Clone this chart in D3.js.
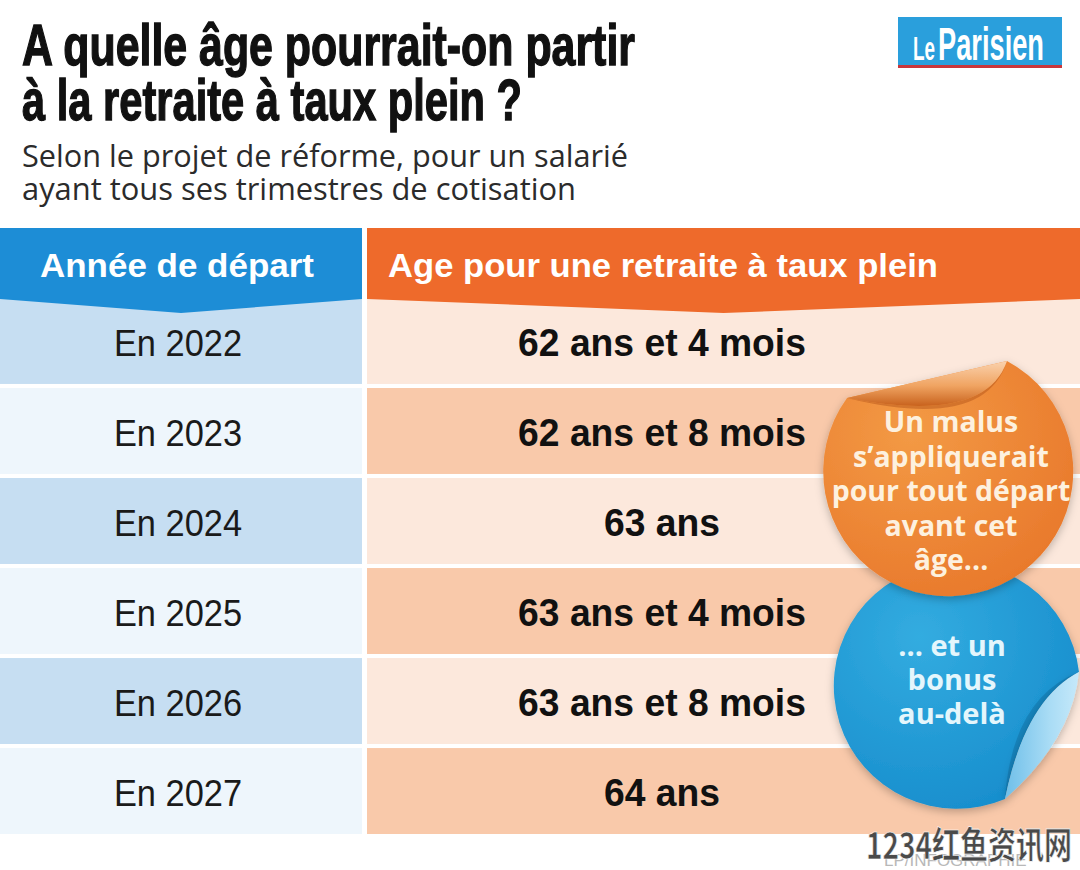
<!DOCTYPE html>
<html><head><meta charset="utf-8">
<script src="https://cdn.jsdelivr.net/npm/d3@7"></script>
<style>body{margin:0;background:#fff}svg{display:block}</style>
</head><body>
<script>
// ---- data ----
const titleLines = ["A quelle âge pourrait-on partir", "à la retraite à taux plein ?"];
const subtitleLines = ["Selon le projet de réforme, pour un salarié", "ayant tous ses trimestres de cotisation"];
const headers = ["Année de départ", "Age pour une retraite à taux plein"];
const years = [2022, 2023, 2024, 2025, 2026, 2027];
const ageYears = [62, 62, 63, 63, 63, 64];
const ageMonths = [4, 8, 0, 4, 8, 0];
const malusLines = ["Un malus", "s’appliquerait", "pour tout départ", "avant cet", "âge..."];
const bonusLines = ["... et un", "bonus", "au-delà"];

const rows = years.map((y, i) => ({
  year: y,
  label: "En " + y,
  age: ageMonths[i] ? `${ageYears[i]} ans et ${ageMonths[i]} mois` : `${ageYears[i]} ans`
}));

const W = 1080, H = 870;
const svg = d3.select("body").append("svg").attr("width", W).attr("height", H);
const defs = svg.append("defs");

const SANS = "'Liberation Sans', Arial, sans-serif";
const HUM = "'Open Sans', 'Noto Sans', sans-serif";

function fit(sel, w) { sel.attr("textLength", w).attr("lengthAdjust", "spacingAndGlyphs"); }
function condense(sel, k) {
  sel.each(function () { const w = this.getComputedTextLength(); d3.select(this).attr("textLength", w * k).attr("lengthAdjust", "spacingAndGlyphs"); });
}

// ---- title ----
const titleW = [613, 500];
svg.selectAll("text.title").data(titleLines).join("text")
  .attr("class", "title").attr("x", 22).attr("y", (d, i) => 65 + i * 55)
  .attr("font-family", SANS).attr("font-weight", 700).attr("font-size", 58).attr("fill", "#111")
  .attr("stroke", "#111").attr("stroke-width", 1.4)
  .text(d => d).each(function (d, i) { fit(d3.select(this), titleW[i]); });

const subW = [606, 554];
svg.selectAll("text.sub").data(subtitleLines).join("text")
  .attr("class", "sub").attr("x", 22).attr("y", (d, i) => 167 + i * 33)
  .attr("font-family", HUM).attr("font-weight", 400).attr("font-size", 31).attr("fill", "#2b2b2b")
  .text(d => d).each(function (d, i) { fit(d3.select(this), subW[i]); });

// ---- logo ----
const logo = svg.append("g").attr("font-family", SANS).attr("font-weight", 700).attr("fill", "#fff");
logo.append("rect").attr("x", 898).attr("y", 17).attr("width", 164).attr("height", 50).attr("fill", "#2a9fdc");
logo.append("rect").attr("x", 898).attr("y", 65).attr("width", 164).attr("height", 3).attr("fill", "#c9363a");
logo.append("text").attr("x", 913).attr("y", 60).attr("font-size", 34).text("Le").call(fit, 22);
logo.append("text").attr("x", 938).attr("y", 60).attr("font-size", 46).text("Parisien").call(fit, 106);

// ---- table ----
const leftX0 = 0, leftX1 = 362, rightX0 = 367, rightX1 = 1080;
const leftCx = 178, rightCx = 662;
const y = d3.scaleBand().domain(years).range([298, 834]).paddingInner(0.045);

const leftColors = ["#c6def2", "#eef6fc"];
const rightColors = ["#fce8dc", "#f9c9aa"];

const rowG = svg.append("g");
rowG.selectAll("rect.l").data(rows).join("rect").attr("class", "l")
  .attr("x", leftX0).attr("width", leftX1 - leftX0)
  .attr("y", d => y(d.year)).attr("height", y.bandwidth())
  .attr("fill", (d, i) => leftColors[i % 2]);
rowG.selectAll("rect.r").data(rows).join("rect").attr("class", "r")
  .attr("x", rightX0).attr("width", rightX1 - rightX0)
  .attr("y", d => y(d.year)).attr("height", y.bandwidth())
  .attr("fill", (d, i) => rightColors[i % 2]);

// header with chevron
const hTop = 228, hBot = 299, hTip = 313;
svg.append("path").attr("fill", "#1d8dd6")
  .attr("d", `M${leftX0},${hTop}H${leftX1}V${hBot}L${(leftX0 + leftX1) / 2},${hTip}L${leftX0},${hBot}Z`);
svg.append("path").attr("fill", "#ee6a2b")
  .attr("d", `M${rightX0},${hTop}H${rightX1}V${hBot}L${(rightX0 + rightX1) / 2},${hTip}L${rightX0},${hBot}Z`);

const hdr = svg.append("g").attr("font-family", SANS).attr("font-weight", 700).attr("font-size", 34).attr("fill", "#fff");
hdr.append("text").attr("x", 40).attr("y", 277).text(headers[0]).call(fit, 274);
hdr.append("text").attr("x", 388).attr("y", 277).text(headers[1]).call(fit, 550);

// row labels
rowG.selectAll("text.year").data(rows).join("text").attr("class", "year")
  .attr("x", leftCx).attr("y", d => y(d.year) + y.bandwidth() / 2 + 15)
  .attr("text-anchor", "middle").attr("font-family", SANS).attr("font-size", 37).attr("fill", "#1a1a1a")
  .text(d => d.label).call(condense, 0.93);

rowG.selectAll("text.age").data(rows).join("text").attr("class", "age")
  .attr("x", rightCx).attr("y", d => y(d.year) + y.bandwidth() / 2 + 15)
  .attr("text-anchor", "middle").attr("font-family", SANS).attr("font-weight", 700).attr("font-size", 39).attr("fill", "#111")
  .text(d => d.age).call(condense, 0.955);

// ---- stickers ----
const shadow = defs.append("filter").attr("id", "sh").attr("x", "-20%").attr("y", "-20%").attr("width", "140%").attr("height", "140%");
shadow.append("feDropShadow").attr("dx", 0).attr("dy", 3).attr("stdDeviation", 4).attr("flood-color", "#000").attr("flood-opacity", 0.25);

const gO = defs.append("radialGradient").attr("id", "gO").attr("cx", "35%").attr("cy", "30%").attr("r", "80%");
gO.append("stop").attr("offset", "0%").attr("stop-color", "#f39a45");
gO.append("stop").attr("offset", "100%").attr("stop-color", "#e8772a");
const gB = defs.append("radialGradient").attr("id", "gB").attr("cx", "35%").attr("cy", "30%").attr("r", "80%");
gB.append("stop").attr("offset", "0%").attr("stop-color", "#33ace0");
gB.append("stop").attr("offset", "100%").attr("stop-color", "#168ccc");
const fO = defs.append("linearGradient").attr("id", "fO").attr("x1", 0).attr("y1", 0).attr("x2", 0).attr("y2", 1);
fO.append("stop").attr("offset", "0%").attr("stop-color", "#fad2ae");
fO.append("stop").attr("offset", "55%").attr("stop-color", "#f0a462");
fO.append("stop").attr("offset", "100%").attr("stop-color", "#c8621d");
const fB = defs.append("linearGradient").attr("id", "fB").attr("x1", 0).attr("y1", 0).attr("x2", 1).attr("y2", 0);
fB.append("stop").attr("offset", "0%").attr("stop-color", "#6fbfe9");
fB.append("stop").attr("offset", "60%").attr("stop-color", "#a9dcf5");
fB.append("stop").attr("offset", "100%").attr("stop-color", "#c6e9fa");

// blue sticker (behind)
const rB = 123;
const bP = [1079, 672], bQ = [1005, 799];
svg.append("path").attr("filter", "url(#sh)").attr("fill", "url(#gB)")
  .attr("d", `M${bP}A${rB},${rB} 0 1 0 ${bQ}Q1025,700 ${bP}Z`);
svg.append("path").attr("fill", "#0f6c9f").attr("opacity", 0.45)
  .attr("d", `M${bP}Q1012,698 ${bQ}Q1025,700 ${bP}Z`);
svg.append("path").attr("fill", "url(#fB)").attr("filter", "url(#sh)")
  .attr("d", `M${bP}Q1072,740 ${bQ}Q1025,700 ${bP}Z`);
svg.append("g").attr("font-family", HUM).attr("font-weight", 700).attr("font-size", 29).attr("fill", "#e4f6fc").attr("text-anchor", "middle")
  .selectAll("text").data(bonusLines).join("text")
  .attr("x", 952).attr("y", (d, i) => 656 + i * 34).text(d => d);

// orange sticker (front)
const rO = 125;
const oA = [847, 398], oT = [1007, 361];
svg.append("path").attr("filter", "url(#sh)").attr("fill", "url(#gO)")
  .attr("d", `M${oT}A${rO},${rO} 0 1 1 ${oA}L${oT}Z`);
svg.append("g").attr("font-family", HUM).attr("font-weight", 700).attr("font-size", 28.5).attr("fill", "#fdf1df").attr("text-anchor", "middle")
  .selectAll("text").data(malusLines).join("text")
  .attr("x", 951).attr("y", (d, i) => 432 + i * 34.5).text(d => d);
// fold flap
svg.append("path").attr("fill", "#b5561a").attr("opacity", 0.5)
  .attr("d", `M${oA}Q985,432 ${oT}Q985,425 ${oA}Z`);
svg.append("path").attr("fill", "url(#fO)")
  .attr("d", `M${oA}L${oT}Q985,425 ${oA}Z`);

// ---- watermark ----
svg.append("text").attr("x", 884).attr("y", 866).attr("font-family", SANS).attr("font-size", 17).attr("fill", "#b8b8b8").text("LP/INFOGRAPHIE");
svg.append("text").attr("x", 866).attr("y", 859).attr("font-family", "'Noto Sans CJK SC', sans-serif").attr("font-weight", 700)
  .attr("font-size", 37).attr("fill", "#4a4a4a").attr("stroke", "#fff").attr("stroke-width", 0.6)
  .text("1234红鱼资讯网").call(fit, 206);
</script>
</body></html>
